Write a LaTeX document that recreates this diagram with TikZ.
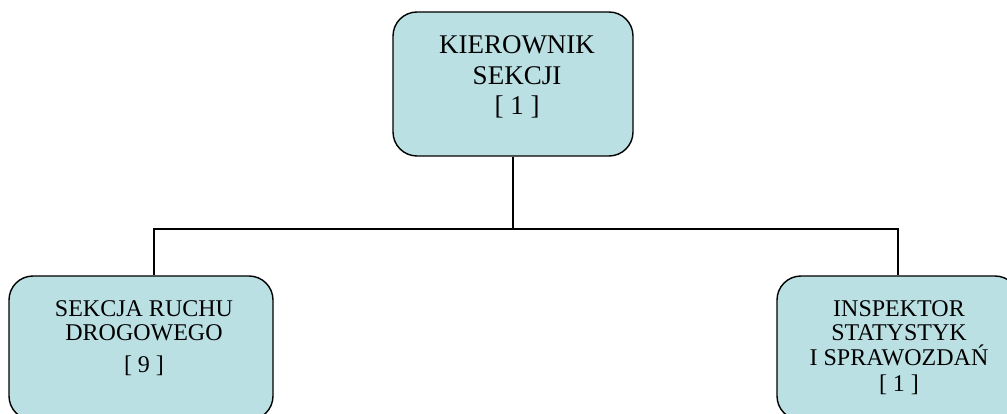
\documentclass[tikz,border=0pt]{standalone}
\usepackage{fontspec}
\setmainfont{Liberation Serif}
\definecolor{boxfill}{RGB}{187,224,227}
\lineskiplimit=-20pt
\begin{document}
\begin{tikzpicture}[x=1pt,y=-1pt,
  unitbox/.style={draw=black, line width=1.4pt, fill=boxfill, rounded corners=24pt, inner sep=0pt},
  unittext/.style={align=center, inner sep=0pt, anchor=north, text=black,
    font=\fontsize{24}{24.5}\selectfont},
  link/.style={draw=black, line width=1.4pt}]
\clip (0,0) rectangle (1007,414);
\fill[white] (0,0) rectangle (1007,414);

% boxes
\node[unitbox, minimum width=240pt, minimum height=144pt] (head) at (513,84) {};
\node[unitbox, minimum width=264pt, minimum height=144pt] (traffic) at (141,348) {};
\node[unitbox, minimum width=242pt, minimum height=144pt] (stats) at (898,348) {};

% texts
\node[unittext, font=\fontsize{27}{31}\selectfont] (headtxt) at (517,35.4)
  {KIEROWNIK\\SEKCJI\\[-1pt]{[ 1 ]}};
\node[unittext, font=\fontsize{24}{24}\selectfont] (traffictxt) at (144,300.8)
  {SEKCJA RUCHU\\DROGOWEGO\\[8pt]{[ 9 ]}};
\node[unittext] (statstxt) at (899,300.1)
  {INSPEKTOR\\STATYSTYK\\I SPRAWOZDAŃ\\[2pt]{[ 1 ]}};

% connectors
\coordinate (bus) at (513,229);
\draw[link] (head.south) -- (bus);
\draw[link] ([xshift=13pt]traffic.north) |- (bus) -| (stats.north);
\end{tikzpicture}
\end{document}
